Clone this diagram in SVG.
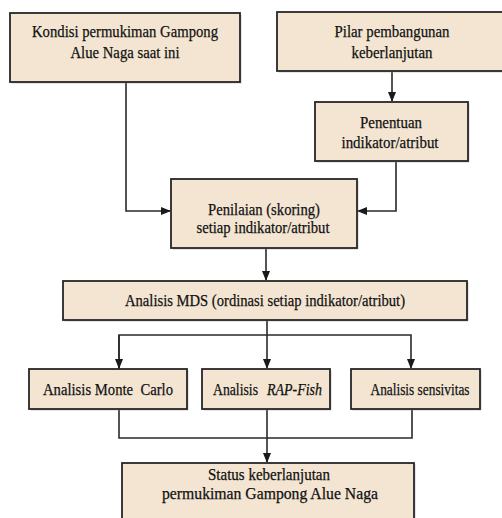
<svg xmlns="http://www.w3.org/2000/svg" width="502" height="518" viewBox="0 0 502 518">
<style>
.box{fill:#f3e5d2;stroke:#262626;stroke-width:1.8}
.sh{fill:#9a9a9a;opacity:0.5}
.t{font-family:"Liberation Serif","Times New Roman",serif;font-size:17.5px;fill:#111;stroke:#111;stroke-width:0.25;text-anchor:middle}
.s{text-anchor:start}
.c{fill:none;stroke:#2a2a2a;stroke-width:1.6}
</style>
<defs>
<marker id="ah" markerWidth="10" markerHeight="10" refX="9" refY="5" orient="auto" markerUnits="userSpaceOnUse">
<path d="M0,1 L10,5 L0,9 Z" fill="#1a1a1a"/>
</marker>
</defs>
<rect width="502" height="518" fill="#ffffff"/>
<g id="connectors">
<path class="c" d="M126,82 V211 H170" marker-end="url(#ah)"/>
<path class="c" d="M392,71 V101" marker-end="url(#ah)"/>
<path class="c" d="M396,162 V211 H358" marker-end="url(#ah)"/>
<path class="c" d="M266,248 V280" marker-end="url(#ah)"/>
<path class="c" d="M267,320 V368" marker-end="url(#ah)"/>
<path class="c" d="M119,369 V335 H411 V368" marker-end="url(#ah)"/>
<path class="c" d="M119,335 V368" marker-end="url(#ah)"/>
<path class="c" d="M119,409 V438 H412 V409"/>
<path class="c" d="M267,409 V438"/>
<path class="c" d="M267,438 V462" marker-end="url(#ah)"/>
</g>
<g id="n1">
<rect class="sh" x="11.5" y="14.5" width="230" height="69"/>
<rect class="box" x="10" y="13" width="230" height="69"/>
<text class="t" x="125" y="37" textLength="186" lengthAdjust="spacingAndGlyphs">Kondisi permukiman Gampong</text>
<text class="t" x="125" y="58" textLength="109" lengthAdjust="spacingAndGlyphs">Alue Naga saat ini</text>
</g>
<g id="n2">
<rect class="sh" x="278.5" y="13.5" width="230" height="59"/>
<rect class="box" x="277" y="12" width="230" height="59"/>
<text class="t" x="392" y="37" textLength="115" lengthAdjust="spacingAndGlyphs">Pilar pembangunan</text>
<text class="t" x="392" y="58" textLength="81" lengthAdjust="spacingAndGlyphs">keberlanjutan</text>
</g>
<g id="n3">
<rect class="sh" x="316.5" y="103.5" width="153" height="59"/>
<rect class="box" x="315" y="102" width="153" height="59"/>
<text class="t" x="391" y="128" textLength="62" lengthAdjust="spacingAndGlyphs">Penentuan</text>
<text class="t" x="390" y="148" textLength="97" lengthAdjust="spacingAndGlyphs">indikator/atribut</text>
</g>
<g id="n4">
<rect class="sh" x="172.5" y="180.5" width="186" height="69"/>
<rect class="box" x="171" y="179" width="186" height="69"/>
<text class="t" x="264" y="215" textLength="112" lengthAdjust="spacingAndGlyphs">Penilaian (skoring)</text>
<text class="t" x="263" y="233" textLength="133" lengthAdjust="spacingAndGlyphs">setiap indikator/atribut</text>
</g>
<g id="n5">
<rect class="sh" x="64.5" y="282.5" width="404" height="39"/>
<rect class="box" x="63" y="281" width="404" height="39"/>
<text class="t" x="265" y="306" textLength="280" lengthAdjust="spacingAndGlyphs">Analisis MDS (ordinasi setiap indikator/atribut)</text>
</g>
<g id="n6">
<rect class="sh" x="30.5" y="370.5" width="158" height="40"/>
<rect class="box" x="29" y="369" width="158" height="40"/>
<text class="t" x="108" y="395" textLength="130" lengthAdjust="spacingAndGlyphs" xml:space="preserve">Analisis Monte  Carlo</text>
</g>
<g id="n7">
<rect class="sh" x="203.5" y="370.5" width="128" height="40"/>
<rect class="box" x="202" y="369" width="128" height="40"/>
<text class="t s" x="213" y="395" textLength="45" lengthAdjust="spacingAndGlyphs">Analisis</text>
<text class="t s" x="267" y="395" textLength="55" lengthAdjust="spacingAndGlyphs" font-style="italic">RAP-Fish</text>
</g>
<g id="n8">
<rect class="sh" x="352.5" y="370.5" width="129" height="40"/>
<rect class="box" x="351" y="369" width="129" height="40"/>
<text class="t" x="420" y="395" textLength="99" lengthAdjust="spacingAndGlyphs">Analisis sensivitas</text>
</g>
<g id="n9">
<rect class="sh" x="123.5" y="464.5" width="292" height="60"/>
<rect class="box" x="122" y="463" width="292" height="60"/>
<text class="t" x="269" y="480" textLength="122" lengthAdjust="spacingAndGlyphs" style="font-size:16.5px">Status keberlanjutan</text>
<text class="t" x="270" y="499" textLength="216" lengthAdjust="spacingAndGlyphs" style="font-size:16.5px">permukiman Gampong Alue Naga</text>
</g>
</svg>
